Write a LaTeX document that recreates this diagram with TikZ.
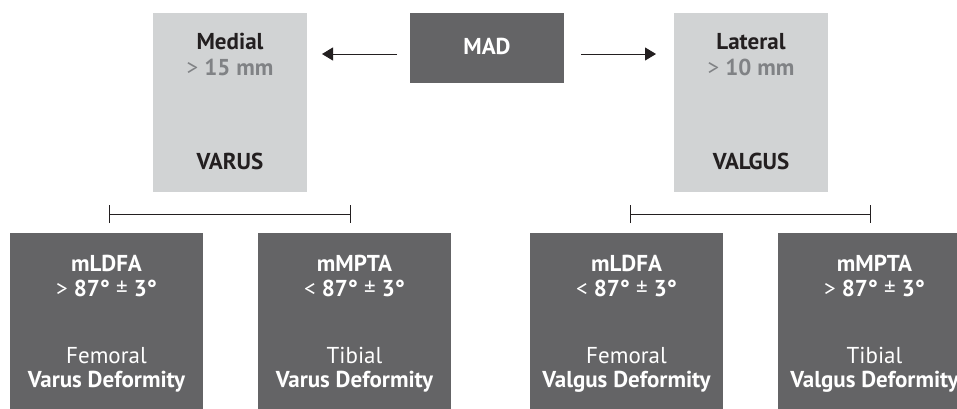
\documentclass[tikz,border=0pt]{standalone}
\usepackage{fontspec}
\setmainfont{PT Sans}
\usetikzlibrary{arrows.meta}
\definecolor{lightbox}{HTML}{D1D3D4}
\definecolor{darkbox}{HTML}{646466}
\definecolor{darktext}{HTML}{231F20}
\definecolor{greytext}{HTML}{808285}
\definecolor{linecol}{HTML}{231F20}
\newcommand\diagfont{\fontsize{23}{26}\selectfont}
\begin{document}
\begin{tikzpicture}[x=1pt,y=1pt,
  lbox/.style={fill=lightbox, draw=none, minimum width=154pt, minimum height=179pt, inner sep=0pt, anchor=north west},
  mbox/.style={fill=darkbox, draw=none, minimum width=154pt, minimum height=70pt, inner sep=0pt, anchor=north west},
  dbox/.style={fill=darkbox, draw=none, minimum width=193pt, minimum height=180pt, inner sep=0pt, anchor=north west},
  ltxt/.style={font=\diagfont, text=darktext, anchor=base, inner sep=0pt},
  gtxt/.style={font=\diagfont, text=greytext, anchor=base, inner sep=0pt},
  wtxt/.style={font=\diagfont, text=white, anchor=base, inner sep=0pt},
  arr/.style={draw=linecol, line width=1pt, -{Triangle[length=11pt, width=13pt]}},
  brk/.style={draw=linecol, line width=1pt, {Bar[width=18pt]}-{Bar[width=18pt]}}
]
\useasboundingbox (0,0) rectangle (957,-408);
\clip (0,0) rectangle (957,-408);

% top boxes
\node[lbox] (medial) at (153,-13) {};
\node[mbox] (mad) at (410,-13) {};
\node[lbox] (lateral) at (674,-13) {};

\node[ltxt] (medialT) at (230,-49) {\bfseries Medial};
\node[gtxt] (medialV) at (230,-75) {> \bfseries 15 mm};
\node[ltxt] (varusT) at (230,-169) {\bfseries VARUS};

\node[wtxt] (madT) at (487,-54) {\bfseries MAD};

\node[ltxt] (lateralT) at (751,-49) {\bfseries Lateral};
\node[gtxt] (lateralV) at (751,-75) {> \bfseries 10 mm};
\node[ltxt] (valgusT) at (751,-169) {\bfseries VALGUS};

% arrows
\coordinate (lt) at (397,-54);
\coordinate (lh) at (322,-54);
\coordinate (rt) at (581,-54);
\coordinate (rh) at (656,-54);
\draw[arr] (lt) -- (lh);
\draw[arr] (rt) -- (rh);

% brackets
\coordinate (b1) at (109,-214);
\coordinate (b2) at (351,-214);
\coordinate (b3) at (630,-214);
\coordinate (b4) at (871,-214);
\draw[brk] (b1) -- (b2);
\draw[brk] (b3) -- (b4);

% bottom boxes
\node[dbox] (f1) at (10,-233) {};
\node[dbox] (t1) at (258,-233) {};
\node[dbox] (f2) at (530,-233) {};
\node[dbox] (t2) at (778,-233) {};

\node[wtxt] (f1a) at (106.5,-271) {\bfseries mLDFA};
\node[wtxt] (f1b) at (106.5,-296) {> {\bfseries 87°} ± {\bfseries 3°}};
\node[wtxt] (f1c) at (106.5,-363) {Femoral};
\node[wtxt] (f1d) at (106.5,-387) {\bfseries Varus Deformity};

\node[wtxt] (t1a) at (354.5,-271) {\bfseries mMPTA};
\node[wtxt] (t1b) at (354.5,-296) {< {\bfseries 87°} ± {\bfseries 3°}};
\node[wtxt] (t1c) at (354.5,-363) {Tibial};
\node[wtxt] (t1d) at (354.5,-387) {\bfseries Varus Deformity};

\node[wtxt] (f2a) at (626.5,-271) {\bfseries mLDFA};
\node[wtxt] (f2b) at (626.5,-296) {< {\bfseries 87°} ± {\bfseries 3°}};
\node[wtxt] (f2c) at (626.5,-363) {Femoral};
\node[wtxt] (f2d) at (626.5,-387) {\bfseries Valgus Deformity};

\node[wtxt] (t2a) at (874.5,-271) {\bfseries mMPTA};
\node[wtxt] (t2b) at (874.5,-296) {> {\bfseries 87°} ± {\bfseries 3°}};
\node[wtxt] (t2c) at (874.5,-363) {Tibial};
\node[wtxt] (t2d) at (874.5,-387) {\bfseries Valgus Deformity};
\end{tikzpicture}
\end{document}
